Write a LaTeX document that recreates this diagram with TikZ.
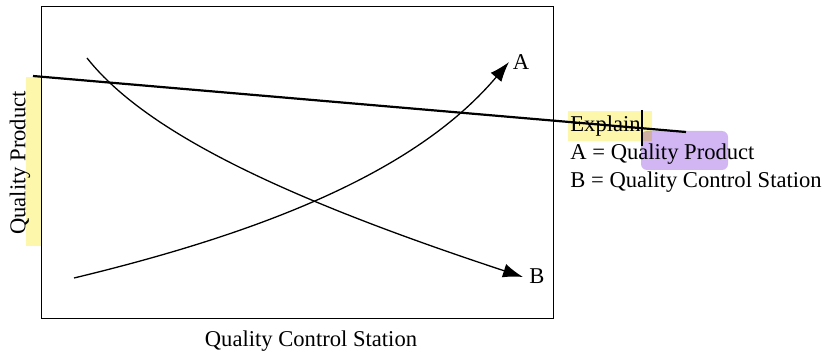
\documentclass[tikz,border=0pt]{standalone}
\usepackage{fontspec}
\setmainfont{Liberation Serif}
\usetikzlibrary{arrows.meta}
\definecolor{hlyellow}{RGB}{252,247,170}
\definecolor{hlpurple}{RGB}{210,182,244}
\tikzset{
  lbl/.style={font=\fontsize{11.3}{13}\selectfont, inner sep=0pt},
  curve/.style={line width=0.65pt, -{Latex[length=10pt,width=7pt]}},
  frame/.style={draw, line width=0.6pt},
}
\begin{document}
\begin{tikzpicture}[x=0.5pt,y=-0.5pt]
\useasboundingbox (0,0) rectangle (826,353);
% highlights
\fill[hlyellow] (26,77) rectangle (42,246);
\fill[hlyellow] (568,111) rectangle (652,141);
% frame
\node[frame, minimum width=256pt, minimum height=156pt, inner sep=0pt, anchor=north west] (box) at (41,6) {};
% axis labels
\node[lbl, rotate=90] (ylab) at (20,163) {Quality Product};
\node[lbl, anchor=base] (xlab) at (311,346) {Quality Control Station};
% curves
\coordinate (b0) at (87,58);
\coordinate (b1) at (523,277);
\coordinate (a0) at (74,278);
\coordinate (a1) at (509,62);
\draw[curve] (b0) .. controls (150,138) and (305,205) .. (b1);
\draw[curve] (a0) .. controls (282,228) and (422,165) .. (a1);
\node[lbl] (la) at (521,62) {A};
\node[lbl] (lb) at (537,276) {B};
% explanation
\node[lbl, anchor=base west] (ex) at (570,132) {Explain};
\node[lbl, anchor=base west] (ea) at (570,160) {A = Quality Product};
\node[lbl, anchor=base west] (eb) at (570,188) {B = Quality Control Station};
% strike line
\coordinate (s0) at (33,76);
\coordinate (s1) at (686,132);
\draw[line width=1.1pt] (s0) -- (s1);
\coordinate (v0) at (642,110);
\coordinate (v1) at (642,146);
\draw[line width=0.8pt] (v0) -- (v1);
% purple mark
\begin{scope}[blend mode=multiply]
\fill[hlpurple, rounded corners=3pt] (641,131) rectangle (728,170);
\end{scope}
\end{tikzpicture}
\end{document}
